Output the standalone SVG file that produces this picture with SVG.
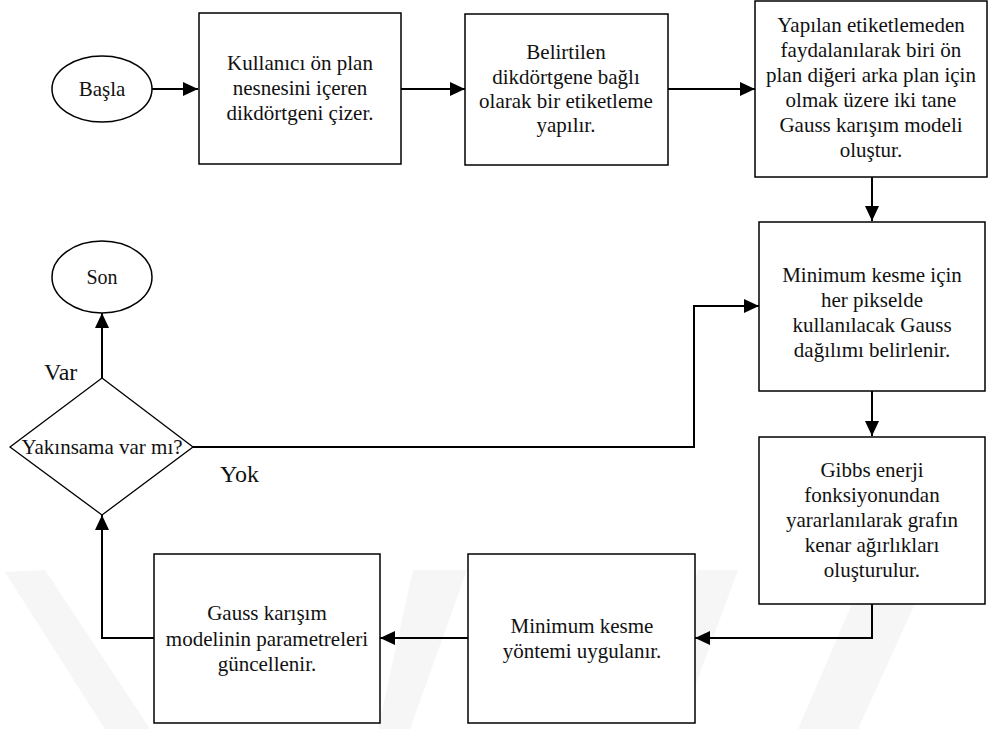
<svg xmlns="http://www.w3.org/2000/svg" width="988" height="729" viewBox="0 0 988 729">
<style>
.node{fill:#fff;stroke:#000;stroke-width:1.5}
.dia{fill:#fff;stroke:#000;stroke-width:1.3}
.t{font-family:"Liberation Serif","Times New Roman",Times,Tinos,"Noto Serif","DejaVu Serif",FreeSerif,serif;font-size:21px;fill:#111;text-anchor:middle}
.lbl{font-family:"Liberation Serif","Times New Roman",Times,Tinos,"Noto Serif","DejaVu Serif",FreeSerif,serif;font-size:24px;fill:#111}
.c{fill:none;stroke:#000;stroke-width:2}
.wm{fill:#f6f6f6;stroke:none}
</style>
<defs>
<marker id="ah" markerUnits="userSpaceOnUse" markerWidth="16" markerHeight="16" viewBox="0 0 16 16" refX="15" refY="8" orient="auto">
<path d="M0,1 L15,8 L0,15 Z" fill="#000"/>
</marker>
</defs>
<rect width="988" height="729" fill="#fff"/>
<g id="watermark">
<polygon class="wm" points="5,572 45,570 150,729 105,729"/>
<polygon class="wm" points="413,570 467,570 410,729 378,729"/>
<polygon class="wm" points="698,570 738,570 690,700 662,700"/>
<polygon class="wm" points="855,597 918,597 858,729 798,729"/>
</g>
<g id="connectors">
<line class="c" x1="152" y1="89" x2="198" y2="89" marker-end="url(#ah)"/>
<line class="c" x1="401" y1="89" x2="465" y2="89" marker-end="url(#ah)"/>
<line class="c" x1="668" y1="89" x2="755" y2="89" marker-end="url(#ah)"/>
<line class="c" x1="872" y1="177" x2="872" y2="221" marker-end="url(#ah)"/>
<line class="c" x1="872" y1="391" x2="872" y2="436" marker-end="url(#ah)"/>
<polyline class="c" points="872,604 872,638 695,638" marker-end="url(#ah)"/>
<line class="c" x1="468" y1="638" x2="380" y2="638" marker-end="url(#ah)"/>
<polyline class="c" points="154,638 102,638 102,515" marker-end="url(#ah)"/>
<line class="c" x1="102" y1="378" x2="102" y2="313" marker-end="url(#ah)"/>
<polyline class="c" points="193,447 694,447 694,306 759,306" marker-end="url(#ah)"/>
<text class="lbl" x="44" y="380">Var</text>
<text class="lbl" x="220" y="482">Yok</text>
</g>
<g id="start">
<ellipse class="node" cx="102" cy="89" rx="50" ry="33"/>
<text class="t" x="102" y="96">Başla</text>
</g>
<g id="box1">
<rect class="node" x="199" y="13" width="202" height="151"/>
<text class="t" x="300" y="70">Kullanıcı ön plan</text>
<text class="t" x="300" y="95">nesnesini içeren</text>
<text class="t" x="300" y="120">dikdörtgeni çizer.</text>
</g>
<g id="box2">
<rect class="node" x="465" y="14" width="203" height="151"/>
<text class="t" x="566" y="59">Belirtilen</text>
<text class="t" x="566" y="84">dikdörtgene bağlı</text>
<text class="t" x="566" y="108">olarak bir etiketleme</text>
<text class="t" x="566" y="132">yapılır.</text>
</g>
<g id="box3">
<rect class="node" x="755" y="1" width="232" height="176"/>
<text class="t" x="871" y="32">Yapılan etiketlemeden</text>
<text class="t" x="871" y="57">faydalanılarak biri ön</text>
<text class="t" x="871" y="82">plan diğeri arka plan için</text>
<text class="t" x="871" y="107">olmak üzere iki tane</text>
<text class="t" x="871" y="132">Gauss karışım modeli</text>
<text class="t" x="871" y="157">oluştur.</text>
</g>
<g id="box4">
<rect class="node" x="759" y="222" width="226" height="169"/>
<text class="t" x="872" y="282">Minimum kesme için</text>
<text class="t" x="872" y="307">her pikselde</text>
<text class="t" x="872" y="332">kullanılacak Gauss</text>
<text class="t" x="872" y="357">dağılımı belirlenir.</text>
</g>
<g id="box5">
<rect class="node" x="759" y="437" width="226" height="167"/>
<text class="t" x="872" y="477">Gibbs enerji</text>
<text class="t" x="872" y="502">fonksiyonundan</text>
<text class="t" x="872" y="527">yararlanılarak grafın</text>
<text class="t" x="872" y="552">kenar ağırlıkları</text>
<text class="t" x="872" y="577">oluşturulur.</text>
</g>
<g id="box6">
<rect class="node" x="468" y="554" width="227" height="169"/>
<text class="t" x="582" y="633">Minimum kesme</text>
<text class="t" x="582" y="658">yöntemi uygulanır.</text>
</g>
<g id="box7">
<rect class="node" x="154" y="554" width="226" height="169"/>
<text class="t" x="267" y="620">Gauss karışım</text>
<text class="t" x="267" y="646">modelinin parametreleri</text>
<text class="t" x="267" y="671">güncellenir.</text>
</g>
<g id="decision">
<polygon class="dia" points="102,378 193,447 102,515 10,447"/>
<text class="t" x="102" y="454">Yakınsama var mı?</text>
</g>
<g id="end">
<ellipse class="node" cx="102" cy="277" rx="50" ry="36"/>
<text class="t" x="102" y="284" style="font-size:20px">Son</text>
</g>
</svg>
